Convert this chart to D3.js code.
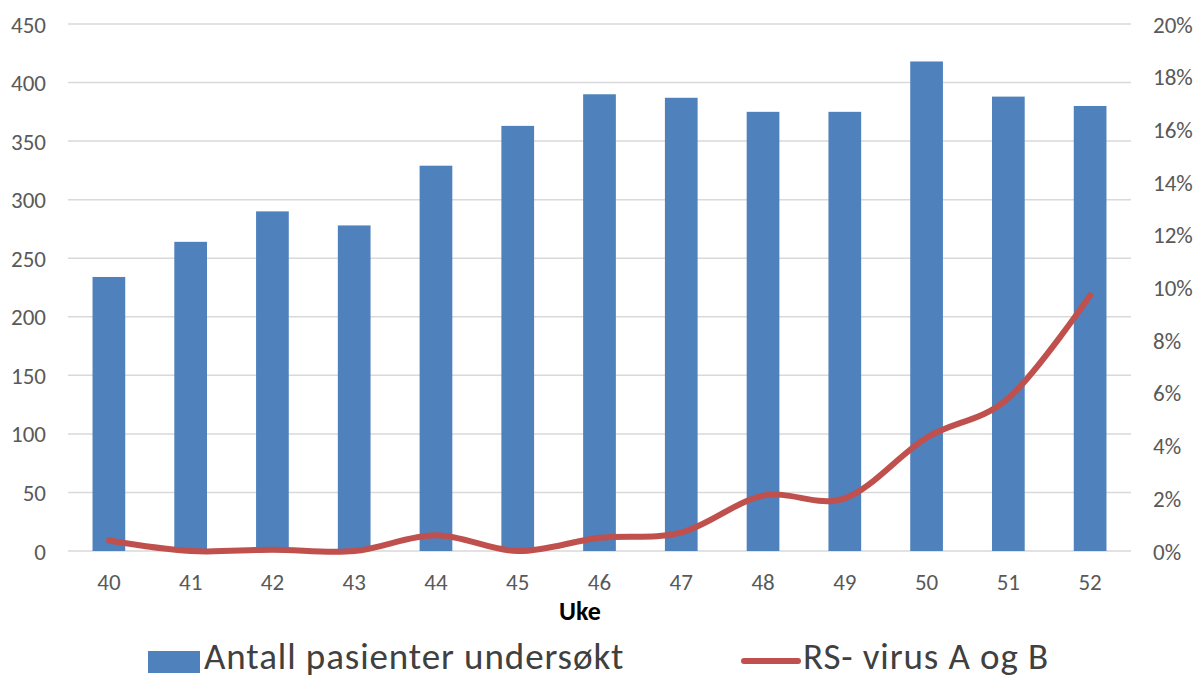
<!DOCTYPE html>
<html>
<head>
<meta charset="utf-8">
<script src="https://cdn.jsdelivr.net/npm/d3@7"></script>
<style>
  body { margin: 0; background: #fff; }
  svg text { font-family: Carlito, "Liberation Sans Narrow", "DejaVu Sans Condensed", "Open Sans", sans-serif; }
</style>
</head>
<body>
<svg class="chart" width="1198" height="679"></svg>
<script>
// data
var weeks = ["40","41","42","43","44","45","46","47","48","49","50","51","52"];
var patients = [234, 264, 290, 278, 329, 363, 390, 387, 375, 375, 418, 388, 380];
var rsv = [0.4, 0.0, 0.05, 0.0, 0.6, 0.0, 0.5, 0.7, 2.1, 2.0, 4.3, 5.8, 9.7]; // percent
var leftTicks = [0, 50, 100, 150, 200, 250, 300, 350, 400, 450];
var rightTicks = [0, 2, 4, 6, 8, 10, 12, 14, 16, 18, 20];
var seriesNames = ["Antall pasienter undersøkt", "RS- virus A og B"];

var x0 = 68, x1 = 1131, yTop = 24, yBot = 551;
var svg = d3.select(".chart");

var x = d3.scaleBand().domain(weeks).range([x0, x1]).paddingInner(0.6).paddingOuter(0.3);
var yL = d3.scaleLinear().domain([0, 450]).range([yBot, yTop]);
var yR = d3.scaleLinear().domain([0, 20]).range([yBot, yTop]);

// gridlines
svg.append("g").selectAll("line").data(leftTicks).enter().append("line")
  .attr("x1", x0).attr("x2", x1)
  .attr("y1", function(d) { return yL(d); }).attr("y2", function(d) { return yL(d); })
  .attr("stroke", "#d9d9d9").attr("stroke-width", 1.5);

// left axis
var gL = svg.append("g").attr("transform", "translate(" + 46 + ",0)")
  .call(d3.axisLeft(yL).tickValues(leftTicks).tickSize(0).tickPadding(0));
gL.select(".domain").remove();
gL.selectAll("text").attr("font-size", 23).attr("fill", "#595959").attr("dy", "0.35em");

// right axis
var gR = svg.append("g").attr("transform", "translate(" + 1153 + ",0)")
  .call(d3.axisRight(yR).tickValues(rightTicks).tickSize(0).tickPadding(0)
    .tickFormat(function(d) { return d + "%"; }));
gR.select(".domain").remove();
gR.selectAll("text").attr("font-size", 23).attr("fill", "#595959").attr("dy", "0.35em");

// bars
svg.append("g").selectAll("rect").data(patients).enter().append("rect")
  .attr("x", function(d, i) { return x(weeks[i]); })
  .attr("width", x.bandwidth())
  .attr("y", function(d) { return yL(d); })
  .attr("height", function(d) { return yBot - yL(d); })
  .attr("fill", "#4f81bd");

// bottom axis
var gX = svg.append("g").attr("transform", "translate(0," + 590 + ")")
  .call(d3.axisBottom(x).tickSize(0).tickPadding(0));
gX.select(".domain").remove();
gX.selectAll("text").attr("font-size", 23).attr("fill", "#595959").attr("dy", "0");

svg.append("text").attr("x", 580).attr("y", 620).attr("text-anchor", "middle")
  .attr("font-size", 26).attr("font-weight", "bold").attr("fill", "#000").text("Uke");

// line
var line = d3.line()
  .x(function(d, i) { return x(weeks[i]) + x.bandwidth() / 2; })
  .y(function(d) { return yR(d); })
  .curve(d3.curveCardinal.tension(0));
svg.append("path").datum(rsv).attr("d", line)
  .attr("fill", "none").attr("stroke", "#c0504d").attr("stroke-width", 6)
  .attr("stroke-linecap", "round").attr("stroke-linejoin", "round");

// legend
var lg = svg.append("g").attr("class", "legend");
lg.append("rect").attr("x", 148).attr("y", 651).attr("width", 52).attr("height", 22).attr("fill", "#4f81bd");
lg.append("text").attr("x", 204).attr("y", 669).attr("font-size", 37).attr("letter-spacing", 0.9)
  .attr("fill", "#404040").text(seriesNames[0]);
lg.append("line").attr("x1", 744).attr("x2", 798).attr("y1", 661).attr("y2", 661)
  .attr("stroke", "#c0504d").attr("stroke-width", 6).attr("stroke-linecap", "round");
lg.append("text").attr("x", 803).attr("y", 669).attr("font-size", 37).attr("letter-spacing", 0.9)
  .attr("fill", "#404040").text(seriesNames[1]);
</script>
</body>
</html>
